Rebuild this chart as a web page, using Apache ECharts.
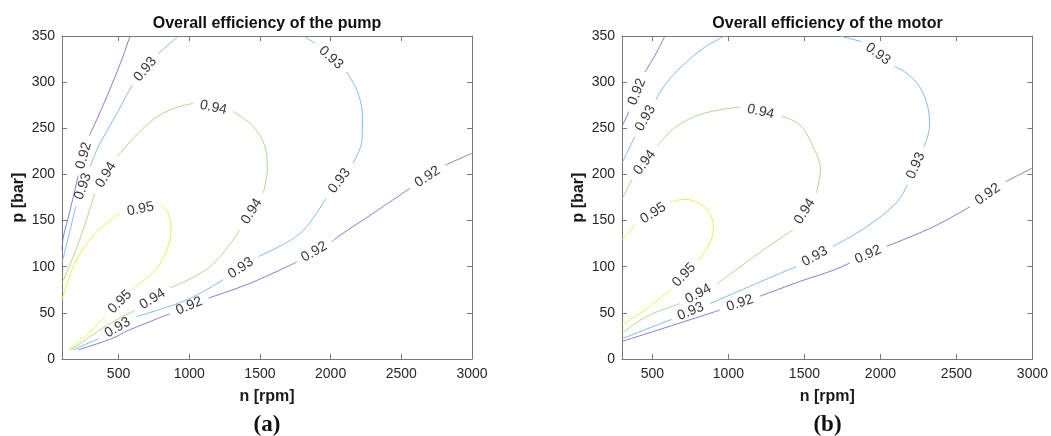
<!DOCTYPE html>
<html><head><meta charset="utf-8">
<script src="https://cdn.jsdelivr.net/npm/echarts@6/dist/echarts.min.js"></script>
<style>html,body{margin:0;padding:0;background:#fff}#c{width:1051px;height:436px}</style>
</head><body><div id="c"></div>
<script>
// ---------- texts & axes ----------
const titles = ['Overall efficiency of the pump', 'Overall efficiency of the motor'];
const subCaptions = ['a', 'b'];
const xName = 'n [rpm]';
const yName = 'p [bar]';
const xMins = [100, 300];
const xMax = 3000;
const yMin = 0, yMax = 350;
const xTicks = [500, 1000, 1500, 2000, 2500, 3000];
const yTicks = [0, 50, 100, 150, 200, 250, 300, 350];
const levels = [0.92, 0.93, 0.94, 0.95];

// ---------- contour lines [n, p]; a label sits in each gap between segments ----------
// pump
const pump092Upper = [[[581,350],[522,324],[427,288],[333,255],[293,242]], [[215,199],[157,161],[109,132],[100,118]]];
const pump092Lower = [[[215,10],[451,22],[569,31],[864,49]], [[1135,66],[1430,82],[1760,105]], [[2008,127],[2066,134],[2302,158],[2561,185]], [[2809,210],[3000,223]]];
const pump093Upper = [[[923,350],[781,331]], [[597,297],[487,266],[381,237],[345,226],[298,208]], [[199,166],[145,132],[100,104]]];
const pump093Loop = [[[1807,350],[1890,342]], [[2114,311],[2194,288],[2225,262],[2222,237],[2158,212]], [[1967,174],[1783,136],[1488,111]], [[1241,86],[982,64],[628,46]], [[357,22],[180,10]]];
const pump094Loop = [[[100,82],[215,125],[333,180]], [[489,219],[616,241],[758,261],[899,272],[1029,277]], [[1312,268],[1453,252],[1536,230],[1552,205],[1524,180]], [[1359,140],[1147,100],[864,77]], [[616,53],[404,35],[192,13],[157,10]]];
const pump095Loop = [[[100,64],[192,104],[333,136],[510,158]], [[800,167],[852,158],[871,142],[841,118],[758,96],[616,78]], [[404,46],[239,21],[140,10]]];
// motor
const motor092Upper = [[[582,350],[517,329],[451,311]], [[346,268],[300,252]]];
const motor092Lower = [[[300,19],[681,39],[944,53]], [[1207,68],[1469,84],[1688,96],[1798,104]], [[2039,122],[2345,143],[2589,165]], [[2822,192],[3000,207]]];
const motor093Upper = [[[977,350],[845,338],[692,317],[582,297],[523,281]], [[385,241],[364,234],[300,212]]];
const motor093Loop = [[[1732,350],[1875,344]], [[2093,317],[2170,310],[2258,295],[2312,273],[2323,252],[2287,230]], [[2178,189],[2104,169],[1907,143],[1688,122]], [[1448,100],[1371,95],[878,60]], [[626,43],[300,22]]];
const motor094Loop = [[[300,173],[366,195]], [[533,231],[659,252],[834,266],[1075,273]], [[1349,263],[1469,254],[1557,230],[1605,205],[1579,180]], [[1425,140],[1228,118],[922,81]], [[681,60],[462,46],[300,28]]];
const motor095Loop = [[[300,129],[392,146]], [[619,170],[714,173],[824,167],[889,154],[900,140],[867,122],[801,107]], [[615,75],[451,53],[300,37]]];

// ---------- assembly ----------
const panels = [
  [ {level: 0.92, segs: pump092Upper}, {level: 0.92, segs: pump092Lower},
    {level: 0.93, segs: pump093Upper}, {level: 0.93, segs: pump093Loop},
    {level: 0.94, segs: pump094Loop}, {level: 0.95, segs: pump095Loop} ],
  [ {level: 0.92, segs: motor092Upper}, {level: 0.92, segs: motor092Lower},
    {level: 0.93, segs: motor093Upper}, {level: 0.93, segs: motor093Loop},
    {level: 0.94, segs: motor094Loop}, {level: 0.95, segs: motor095Loop} ]
];
const levelColors = {'0.92': '#7a6cd8', '0.93': '#6cb7f0', '0.94': '#a3d77c', '0.95': '#ecea3a'};
const FONT = '"Liberation Sans", Arial, Helvetica, sans-serif';
const SERIF = '"Liberation Serif", "DejaVu Serif", serif';
const AXC = '#777777';
const TXT = '#262626';
const grids = [{left: 62, top: 36, width: 410, height: 323}, {left: 622, top: 36, width: 411, height: 323}];

const chart = echarts.init(document.getElementById('c'), null, {renderer: 'canvas'});

const xAxis = [], yAxis = [], title = [], series = [];
grids.forEach((g, gi) => {
  const cx = g.left + g.width / 2;
  xAxis.push({
    type: 'value', gridIndex: gi, min: xMins[gi], max: xMax, position: 'bottom',
    axisLine: {show: true, onZero: false, lineStyle: {color: AXC, width: 1}},
    axisTick: {show: true, inside: true, length: 5, customValues: xTicks, lineStyle: {color: AXC}},
    axisLabel: {customValues: xTicks, formatter: v => String(v), color: TXT, fontSize: 14, margin: 8, fontFamily: FONT},
    splitLine: {show: false},
    name: xName, nameLocation: 'middle', nameGap: 30,
    nameTextStyle: {fontWeight: 'bold', fontSize: 16, color: '#1a1a1a', fontFamily: FONT}
  });
  xAxis.push({
    type: 'value', gridIndex: gi, min: xMins[gi], max: xMax, position: 'top',
    axisLine: {show: true, onZero: false, lineStyle: {color: AXC, width: 1}},
    axisTick: {show: true, inside: true, length: 5, customValues: xTicks, lineStyle: {color: AXC}},
    axisLabel: {show: false}, splitLine: {show: false}
  });
  yAxis.push({
    type: 'value', gridIndex: gi, min: yMin, max: yMax, interval: 50, position: 'left',
    axisLine: {show: true, onZero: false, lineStyle: {color: AXC, width: 1}},
    axisTick: {show: true, inside: true, length: 5, lineStyle: {color: AXC}},
    axisLabel: {formatter: v => String(v), color: TXT, fontSize: 14, margin: 7, fontFamily: FONT},
    splitLine: {show: false},
    name: yName, nameLocation: 'middle', nameGap: 35,
    nameTextStyle: {fontWeight: 'bold', fontSize: 16, color: '#1a1a1a', fontFamily: FONT}
  });
  yAxis.push({
    type: 'value', gridIndex: gi, min: yMin, max: yMax, interval: 50, position: 'right',
    axisLine: {show: true, onZero: false, lineStyle: {color: AXC, width: 1}},
    axisTick: {show: true, inside: true, length: 5, lineStyle: {color: AXC}},
    axisLabel: {show: false}, splitLine: {show: false}
  });
  title.push({
    text: titles[gi], left: cx, top: 16, textAlign: 'center', padding: 0,
    textStyle: {fontSize: 16, fontWeight: 'bold', color: '#111', fontFamily: FONT}
  });
  title.push({
    text: '{n|(}{b|' + subCaptions[gi] + '}{n|)}', left: cx, top: 414, textAlign: 'center', padding: 0,
    textStyle: {rich: {
      n: {fontSize: 23, fontFamily: SERIF, color: '#111'},
      b: {fontSize: 23, fontWeight: 'bold', fontFamily: SERIF, color: '#111'}
    }}
  });
  panels[gi].forEach(c => {
    c.segs.forEach(seg => {
      series.push({
        type: 'line', xAxisIndex: gi * 2, yAxisIndex: gi * 2, data: seg,
        symbol: 'none', smooth: 0.35, silent: true, animation: false,
        lineStyle: {color: levelColors[c.level.toFixed(2)], width: 0.9}
      });
    });
  });
});

chart.setOption({
  animation: false, backgroundColor: '#fff',
  grid: grids, xAxis, yAxis, title, series
});

// contour labels: centred in each gap, rotated along the gap direction
grids.forEach((g, gi) => {
  const finder = {xAxisIndex: gi * 2, yAxisIndex: gi * 2};
  const data = [];
  panels[gi].forEach(c => {
    for (let k = 0; k < c.segs.length - 1; k++) {
      const a = c.segs[k][c.segs[k].length - 1];
      const b = c.segs[k + 1][0];
      const pa = chart.convertToPixel(finder, a);
      const pb = chart.convertToPixel(finder, b);
      let ang = Math.atan2(-(pb[1] - pa[1]), pb[0] - pa[0]) * 180 / Math.PI;
      if (ang > 90) ang -= 180;
      if (ang < -90) ang += 180;
      data.push({
        value: [(a[0] + b[0]) / 2, (a[1] + b[1]) / 2],
        label: {rotate: ang, formatter: c.level.toFixed(2)}
      });
    }
  });
  series.push({
    type: 'scatter', xAxisIndex: gi * 2, yAxisIndex: gi * 2, data,
    symbolSize: 0, silent: true, animation: false, z: 10,
    label: {show: true, position: 'inside', fontSize: 14, color: '#000', fontFamily: FONT}
  });
});
chart.setOption({series});
</script></body></html>
